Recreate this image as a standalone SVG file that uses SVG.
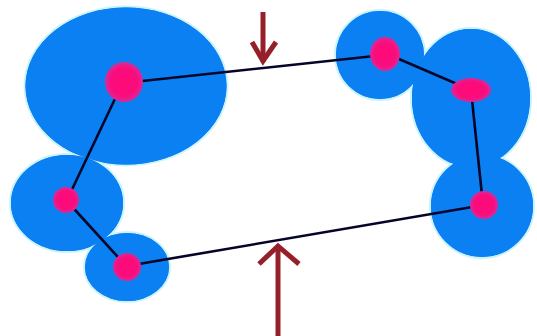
<svg xmlns="http://www.w3.org/2000/svg" width="537" height="336" viewBox="0 0 537 336">
<defs>
<style>
.edge{fill:#1a70d6;stroke:#c8f4ff;stroke-width:2}
.blob{fill:#0a80f2}
.dot{fill:url(#pink)}
.link{stroke:#05052a;stroke-width:2.6;fill:none;stroke-linecap:round}
.arrow{stroke:#96202a;stroke-width:5;fill:none;stroke-linecap:butt;stroke-linejoin:miter}
</style>
<radialGradient id="pink">
<stop offset="0" stop-color="#ff0a78"/>
<stop offset="0.7" stop-color="#fa0c7c"/>
<stop offset="1" stop-color="#d82a9a"/>
</radialGradient>
</defs>
<rect width="537" height="336" fill="#ffffff"/>
<g id="regions">
<g class="edge">
<ellipse cx="126" cy="86" rx="101.5" ry="79.5"/>
<ellipse cx="67" cy="203" rx="57" ry="49"/>
<ellipse cx="127" cy="267" rx="43" ry="35"/>
<ellipse cx="380" cy="55" rx="45" ry="45"/>
<ellipse cx="471" cy="98" rx="60" ry="70"/>
<circle cx="482" cy="206" r="52"/>
</g>
<g class="blob">
<ellipse cx="126" cy="86" rx="100.5" ry="78.5"/>
<ellipse cx="67" cy="203" rx="56" ry="48"/>
<ellipse cx="127" cy="267" rx="42" ry="34"/>
<ellipse cx="380" cy="55" rx="44" ry="44"/>
<ellipse cx="471" cy="98" rx="59" ry="69"/>
<circle cx="482" cy="206" r="51"/>
</g>
</g>
<g id="connectors">
<line class="link" x1="124" y1="83" x2="384" y2="55"/>
<line class="link" x1="123" y1="82" x2="67" y2="200"/>
<line class="link" x1="66" y1="200" x2="127" y2="267"/>
<line class="link" x1="127" y1="266" x2="484" y2="205"/>
<line class="link" x1="385" y1="53" x2="471" y2="90"/>
<line class="link" x1="471" y1="90" x2="483" y2="205"/>
</g>
<g id="n1"><ellipse class="dot" cx="124" cy="82" rx="19" ry="20"/></g>
<g id="n2"><circle class="dot" cx="66" cy="200" r="13"/></g>
<g id="n3"><circle class="dot" cx="127" cy="267" r="14"/></g>
<g id="n4"><ellipse class="dot" cx="385" cy="54" rx="15" ry="17"/></g>
<g id="n5"><ellipse class="dot" cx="471" cy="90" rx="20" ry="12"/></g>
<g id="n6"><circle class="dot" cx="484" cy="205" r="14"/></g>
<g id="arrow-top">
<path class="arrow" d="M263 12 V62"/>
<path class="arrow" d="M252 42 L263 61 L276 42"/>
</g>
<g id="arrow-bottom">
<path class="arrow" d="M278 336 V248"/>
<path class="arrow" d="M259 264 L278 246 L299 264"/>
</g>
</svg>
